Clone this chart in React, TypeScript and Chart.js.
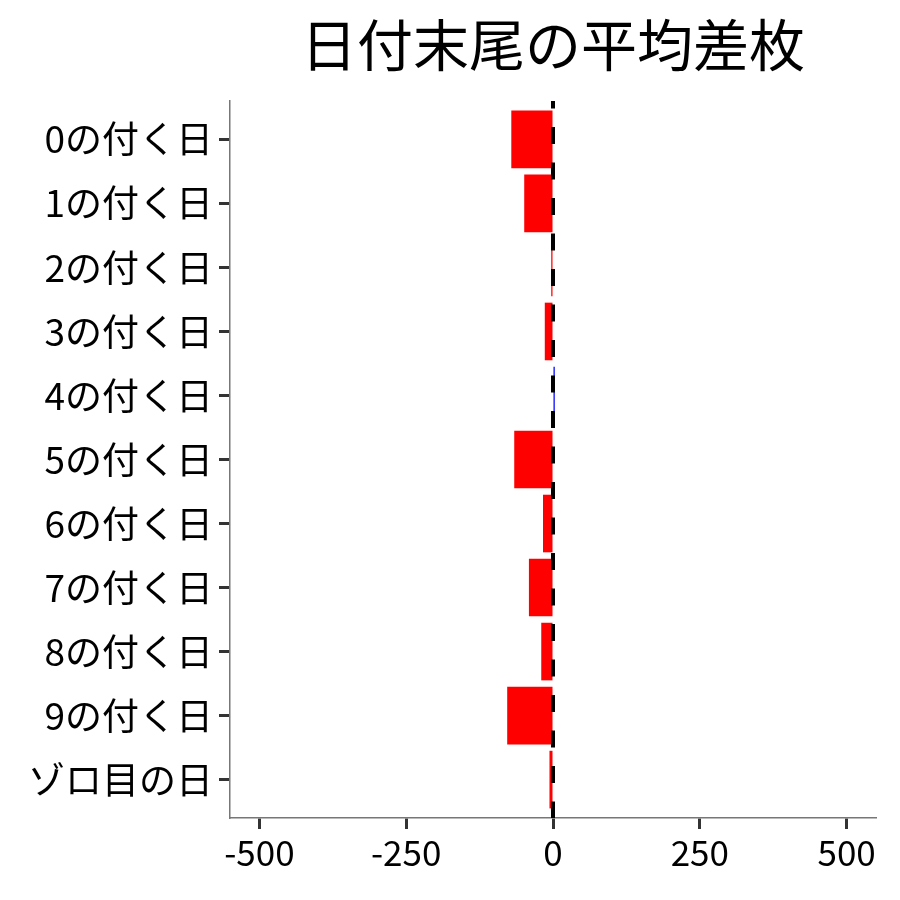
import React, { useEffect, useRef } from "react";
import { Chart, registerables } from "chart.js";

Chart.register(...registerables);

const TITLE = "日付末尾の平均差枚";
const categories = [
  "0の付く日", "1の付く日", "2の付く日", "3の付く日", "4の付く日",
  "5の付く日", "6の付く日", "7の付く日", "8の付く日", "9の付く日", "ゾロ目の日",
];
const avgDiff = [-71, -49, -3, -14, 3, -66, -17, -41, -20, -78, -6];
const xTicks = [-500, -250, 0, 250, 500];
const X_MIN = -550;
const X_MAX = 550;

const FONT = "'Noto Sans CJK JP', 'Noto Sans', sans-serif";

export default function App() {
  const ref = useRef<HTMLCanvasElement | null>(null);
  useEffect(() => {
    if (!ref.current) return;
    const zeroLine = {
      id: "zeroLine",
      afterDatasetsDraw(chart: any) {
        const { ctx, chartArea, scales } = chart;
        const x = scales.x.getPixelForValue(0);
        ctx.save();
        ctx.strokeStyle = "#000";
        ctx.lineWidth = 4;
        ctx.setLineDash([17, 18.5]);
        ctx.lineDashOffset = 9.5;
        ctx.beginPath();
        ctx.moveTo(x, chartArea.top);
        ctx.lineTo(x, chartArea.bottom);
        ctx.stroke();
        ctx.restore();
      },
    };
    const titlePlugin = {
      id: "centerTitle",
      afterDraw(chart: any) {
        const { ctx, chartArea } = chart;
        ctx.save();
        ctx.fillStyle = "#000";
        ctx.font = `56px ${FONT}`;
        ctx.textAlign = "center";
        ctx.textBaseline = "middle";
        ctx.fillText(TITLE, (chartArea.left + chartArea.right) / 2, 45);
        ctx.restore();
      },
    };
    const points = avgDiff.map((v, i) => ({ x: v, y: i }));
    const chart = new Chart(ref.current, {
      type: "bar",
      data: {
        datasets: [
          {
            data: points,
            backgroundColor: avgDiff.map((v) => (v < 0 ? "#ff0000" : "#0000ff")),
            borderWidth: 0,
            barPercentage: 0.9,
            categoryPercentage: 1.0,
            minBarLength: 0,
          },
        ],
      },
      options: {
        indexAxis: "y",
        animation: false,
        responsive: false,
        maintainAspectRatio: false,
        layout: { padding: { top: 101, right: 24, left: 0, bottom: 0 } },
        plugins: {
          legend: { display: false },
          title: { display: false },
          tooltip: { enabled: false },
        },
        scales: {
          x: {
            type: "linear",
            min: X_MIN,
            max: X_MAX,
            offset: false,
            afterBuildTicks: (s: any) => {
              s.ticks = xTicks.map((v) => ({ value: v }));
            },
            afterFit: (s: any) => {
              s.height = 82;
            },
            grid: {
              offset: false,
              drawOnChartArea: false,
              drawTicks: true,
              tickLength: 11,
              tickColor: "#333",
              tickWidth: 3,
            },
            border: { display: true, color: "#777", width: 1.5 },
            ticks: {
              color: "#000",
              font: { family: FONT, size: 35 },
              padding: 3,
              maxRotation: 0,
            },
          },
          y: {
            type: "linear",
            reverse: true,
            offset: false,
            min: -0.6,
            max: categories.length - 1 + 0.6,
            afterBuildTicks: (s: any) => {
              s.ticks = categories.map((_, i) => ({ value: i }));
            },
            afterFit: (s: any) => {
              s.width = 230;
            },
            grid: {
              offset: false,
              drawOnChartArea: false,
              drawTicks: true,
              tickLength: 11,
              tickColor: "#333",
              tickWidth: 3,
            },
            border: { display: true, color: "#777", width: 1.5 },
            ticks: {
              color: "#000",
              font: { family: FONT, size: 37 },
              padding: 6,
              callback: (v: any) => categories[Math.round(Number(v))] ?? "",
            },
          },
        },
      },
      plugins: [zeroLine, titlePlugin],
    });
    return () => chart.destroy();
  }, []);
  return (
    <div style={{ position: "fixed", left: 0, top: 0, width: 900, height: 900, background: "#fff" }}>
      <canvas ref={ref} width={900} height={900} style={{ width: 900, height: 900 }} />
    </div>
  );
}
